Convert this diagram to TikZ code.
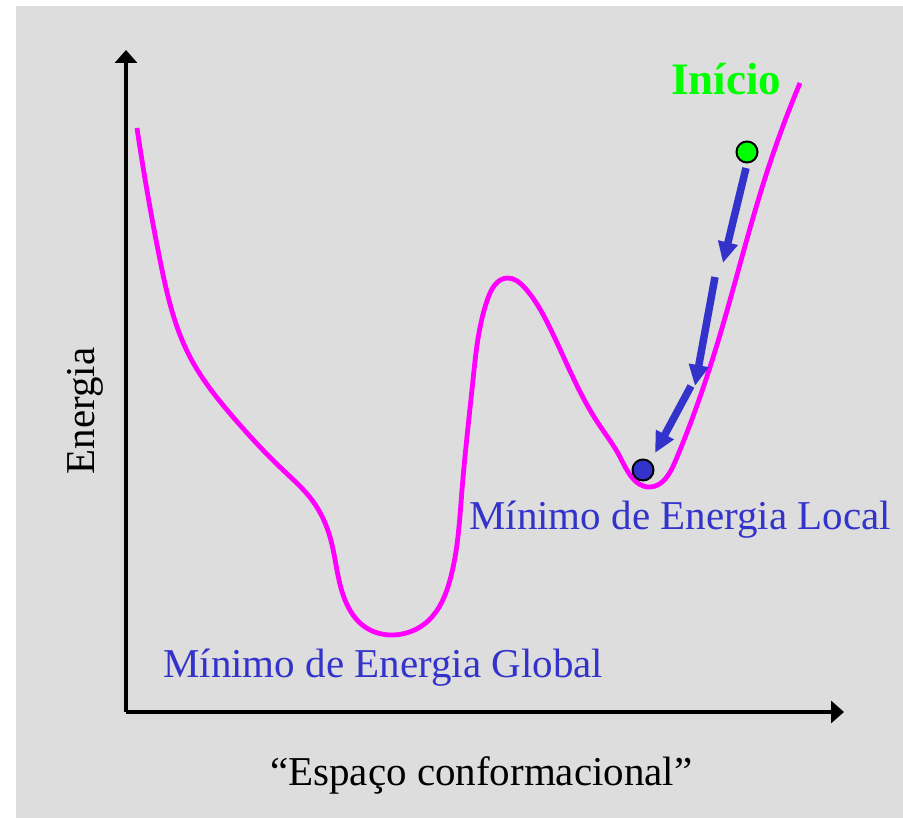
\documentclass[tikz,border=0pt]{standalone}
\usepackage{fontspec}
\setmainfont{Liberation Serif}
\usetikzlibrary{
    arrows.meta,
    positioning,
    hobby
}

\definecolor{bggray}{HTML}{DDDDDD}
\definecolor{curvemag}{HTML}{FF00FF}
\definecolor{stepblue}{HTML}{3333CC}
\definecolor{startgreen}{HTML}{00FF00}

\tikzset{
    axisline/.style={line width=4pt,-{Triangle[length=13pt,width=22pt]}},
    descent/.style={stepblue,line width=7.5pt,-{Triangle[length=21pt,width=19pt]}},
    ball/.style={circle,draw=black,line width=2pt,minimum size=21pt,inner sep=0pt},
    label/.style={inner sep=0pt,font=\fontsize{41}{49}\selectfont}
}

\begin{document}
\begin{tikzpicture}[x=1pt,y=-1pt]

% Background
\useasboundingbox (0,0) rectangle (903,818);
\fill[bggray] (16,6) rectangle (903,818);

% Axes
\coordinate (origin) at (126,712);
\coordinate (ytip) at (126,50);
\coordinate (xtip) at (844,712);
\draw[axisline] (origin) -- (ytip);
\draw[axisline] (origin) -- (xtip);

% Energy landscape
\draw[curvemag,line width=4.8pt,use Hobby shortcut]
(137,128) ..
(160,260) ..
(190,357) ..
(233,417) ..
(283,470) ..
(312,500) ..
(330,537) ..
(345,600) ..
(365,627) ..
(393,635) ..
(428,621) ..
(450,580) ..
(462,490) ..
(473,380) ..
(488,298) ..
(507,278) ..
(525,288) ..
(550,328) ..
(598,423) ..
(620,457) ..
(650,487) ..
(675,462) ..
(700,397) ..
(722,328) ..
(767,172) ..
(800,83);

% Start and end points
\node[ball,fill=startgreen] (start) at (747,152) {};
\node[ball,fill=stepblue] (local) at (643,470) {};

% Descent steps
\coordinate (s1a) at (746,168);
\coordinate (s1b) at (723,263);
\coordinate (s2a) at (715,277);
\coordinate (s2b) at (695,386);
\coordinate (s3a) at (691,386);
\coordinate (s3b) at (655,453);
\draw[descent] (s1a) -- (s1b);
\draw[descent] (s2a) -- (s2b);
\draw[descent] (s3a) -- (s3b);

% Labels
\node[label,anchor=base west,text=startgreen,font=\fontsize{45}{53}\selectfont\bfseries]
    (inicio) at (671,95) {Início};
\node[label,anchor=base west,text=stepblue] (loclab) at (469,529) {Mínimo de Energia Local};
\node[label,anchor=base west,text=stepblue] (globlab) at (163,677) {Mínimo de Energia Global};
\node[label,anchor=base west] (xlab) at (270,785) {“Espaço conformacional”};
\node[label,anchor=base,rotate=90] (ylab) at (94,411) {Energia};

\end{tikzpicture}
\end{document}
